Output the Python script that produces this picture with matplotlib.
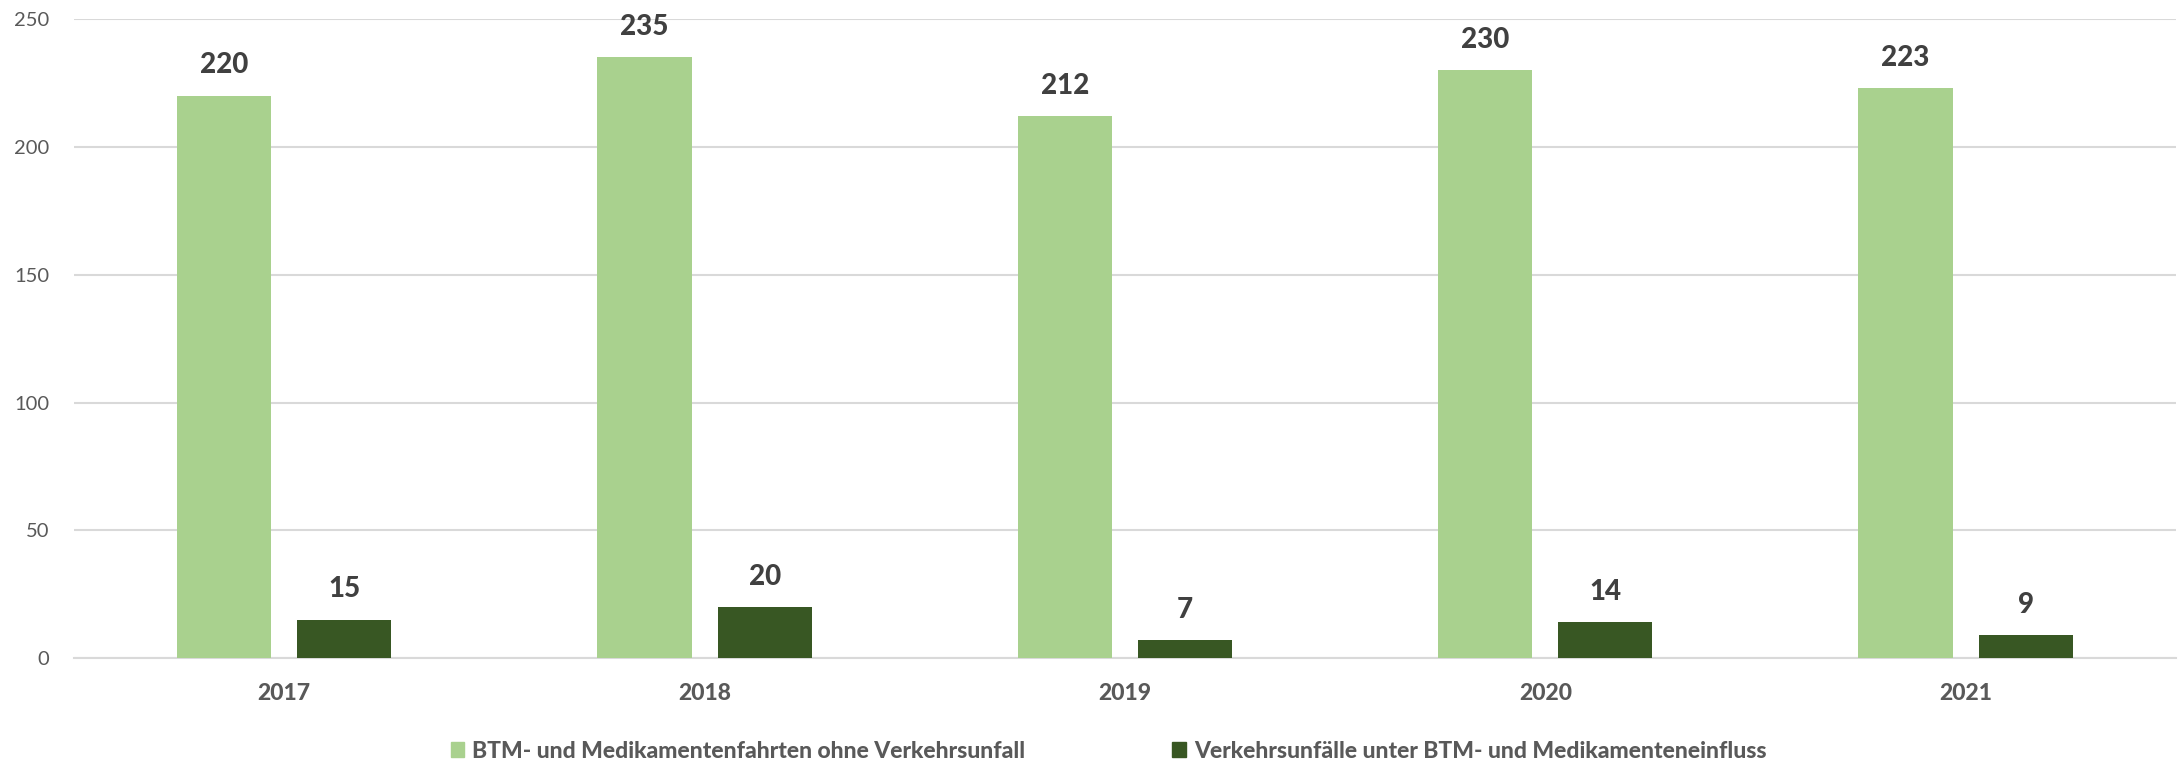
import matplotlib
matplotlib.use('Agg')
import matplotlib.pyplot as plt
from matplotlib.patches import Patch
import numpy as np

# --- Daten ---
years = ['2017', '2018', '2019', '2020', '2021']
ohne_unfall = [220, 235, 212, 230, 223]
mit_unfall = [15, 20, 7, 14, 9]
series_names = ['BTM- und Medikamentenfahrten ohne Verkehrsunfall',
                'Verkehrsunfälle unter BTM- und Medikamenteneinfluss']
y_ticks = [0, 50, 100, 150, 200, 250]

# --- Stil ---
COLOR_LIGHT = '#A9D18E'
COLOR_DARK = '#385723'
COLOR_TEXT = '#595959'
COLOR_LABEL = '#404040'
COLOR_GRID = '#D9D9D9'

plt.rcParams['font.family'] = ['Lato', 'DejaVu Sans']

fig = plt.figure(figsize=(21.78, 7.61), dpi=100)
ax = fig.add_axes([0.034, 0.135, 0.965, 0.84])

x = np.arange(len(years))
width = 0.224
offset = 0.143

bars1 = ax.bar(x - offset, ohne_unfall, width, color=COLOR_LIGHT, zorder=3)
bars2 = ax.bar(x + offset, mit_unfall, width, color=COLOR_DARK, zorder=3)

# Datenbeschriftungen
for bars in (bars1, bars2):
    for b in bars:
        ax.annotate(f'{int(b.get_height())}',
                    xy=(b.get_x() + b.get_width() / 2, b.get_height()),
                    xytext=(0, 22), textcoords='offset points',
                    ha='center', va='center', fontsize=20,
                    fontweight=900, color=COLOR_LABEL)

ax.set_xlim(-0.5, len(years) - 0.5)
ax.set_ylim(0, 250)
ax.set_yticks(y_ticks)
ax.set_xticks(x)
ax.set_xticklabels(years)
ax.tick_params(axis='y', labelsize=14.5, labelcolor=COLOR_TEXT, length=0, pad=18)
ax.tick_params(axis='x', length=0, pad=18)
for lbl in ax.get_xticklabels():
    lbl.set_fontsize(16.5)
    lbl.set_fontweight(900)
    lbl.set_color(COLOR_TEXT)

ax.grid(axis='y', color=COLOR_GRID, linewidth=1.5, zorder=0)
for s in ['top', 'right', 'left']:
    ax.spines[s].set_visible(False)
ax.spines['bottom'].set_color(COLOR_GRID)
ax.spines['bottom'].set_linewidth(1.5)

handles = [Patch(color=COLOR_LIGHT), Patch(color=COLOR_DARK)]
leg = fig.legend(handles, series_names, loc='lower center',
                 bbox_to_anchor=(0.509, -0.028), ncol=2, frameon=False,
                 prop={'size': 16.5, 'weight': 900},
                 handlelength=0.6, handleheight=0.6,
                 handletextpad=0.35, columnspacing=6.4)
for t in leg.get_texts():
    t.set_color(COLOR_TEXT)

fig.savefig('out.png', dpi=100)
